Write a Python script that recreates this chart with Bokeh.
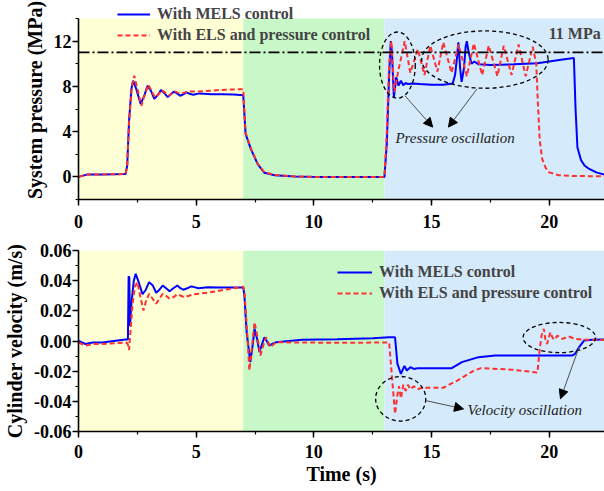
from bokeh.plotting import figure
from bokeh.layouts import column
from bokeh.models import (Range1d, BoxAnnotation, SingleIntervalTicker, PrintfTickFormatter,
                          Legend, LegendItem, Arrow, NormalHead, Label, Span)
from bokeh.embed import file_html
from bokeh.resources import INLINE

# ---------------- data ----------------
phase_edges = [0, 7, 13, 22.35]
phase_colors = ["#FFFFD6", "#C8F8C8", "#D5EAFA"]

labels = ["With MELS control", "With ELS and pressure control"]

# System pressure, MELS (blue)
t_p_mels = [0, 0.35, 1.0, 2.0, 2.07, 2.15, 2.25, 2.32, 2.45, 2.64,
            2.8, 2.93, 3.08, 3.22, 3.36, 3.5, 3.65, 3.79, 3.92, 4.05,
            4.2, 4.32, 4.45, 4.58, 4.72, 4.87, 5.15, 5.65, 6.1, 6.6,
            7.0, 7.05, 7.1, 7.33, 7.62, 7.9, 8.33, 9.2, 10, 12,
            13.0, 13.1, 13.2, 13.27, 13.32, 13.4, 13.5, 13.6, 13.7, 13.8,
            13.9, 14.0, 14.2, 14.5, 15.0, 15.5, 15.9, 16.0, 16.08, 16.14,
            16.22, 16.28, 16.38, 16.45, 16.5, 16.58, 16.7, 16.82, 17.0, 17.5,
            18.5, 19.5, 20.0, 20.5, 21.05, 21.12, 21.2, 21.35, 21.5, 21.7,
            22.0, 22.35]
p_mels = [0, 0.2, 0.22, 0.25, 1.0, 5.0, 7.8, 8.5, 7.8, 6.45,
          7.2, 8.05, 7.6, 6.9, 7.2, 7.68, 7.4, 7.05, 7.3, 7.53,
          7.35, 7.17, 7.3, 7.47, 7.35, 7.26, 7.38, 7.3, 7.3, 7.28,
          7.22, 5.5, 3.8, 2.43, 1.1, 0.36, 0.15, 0.03, 0.0, 0.0,
          0.0, 3.0, 9.0, 12.0, 11.0, 7.0, 8.8, 8.06, 8.5, 8.1,
          8.3, 8.2, 8.25, 8.2, 8.15, 8.15, 8.25, 9.0, 10.5, 11.9,
          9.5, 8.4, 9.6, 11.5, 12.0, 11.0, 10.0, 10.2, 9.95, 9.9,
          9.95, 10.05, 10.2, 10.35, 10.5, 6.0, 2.6, 1.5, 1.0, 0.7,
          0.4, 0.2]

# System pressure, ELS + pressure control (red)
t_p_els = [0, 0.35, 1.0, 2.0, 2.07, 2.15, 2.27, 2.37, 2.5, 2.67,
           2.82, 2.97, 3.1, 3.25, 3.4, 3.54, 3.68, 3.83, 3.95, 4.08,
           4.22, 4.36, 4.5, 4.63, 4.9, 5.2, 5.6, 6.0, 6.5, 7.0,
           7.05, 7.1, 7.33, 7.62, 7.9, 8.33, 9.2, 10, 12, 13.0,
           13.1, 13.2, 13.29, 13.42, 13.6, 13.86, 14.1, 14.42, 14.7, 14.95,
           15.25, 15.5, 15.85, 16.15, 16.5, 16.8, 17.15, 17.43, 17.8, 18.07,
           18.4, 18.7, 19.0, 19.3, 19.45, 19.52, 19.6, 19.7, 19.85, 20.0,
           20.4, 21.0, 22.35]
p_els = [0, 0.2, 0.22, 0.25, 1.0, 5.0, 8.0, 8.95, 7.8, 6.3,
         7.3, 8.15, 7.6, 7.03, 7.3, 7.68, 7.45, 7.17, 7.35, 7.56,
         7.45, 7.35, 7.45, 7.53, 7.55, 7.56, 7.62, 7.68, 7.72, 7.75,
         5.8, 3.9, 2.5, 1.15, 0.4, 0.17, 0.04, 0.0, 0.0, 0.0,
         4.0, 10.0, 12.0, 7.5, 9.5, 12.0, 9.2, 11.3, 9.0, 11.6,
         9.3, 11.9, 9.2, 11.7, 8.9, 11.8, 9.0, 11.6, 8.9, 11.6,
         9.0, 11.7, 8.9, 11.5, 10.0, 6.5, 3.2, 1.6, 0.8, 0.4,
         0.15, 0.08, 0.05]

# Cylinder velocity, MELS (blue)
t_v_mels = [0, 0.3, 0.6, 1.0, 1.5, 2.0, 2.1, 2.13, 2.16, 2.19,
            2.25, 2.35, 2.43, 2.58, 2.72, 2.86, 3.0, 3.15, 3.3, 3.44,
            3.58, 3.72, 3.87, 4.03, 4.2, 4.33, 4.45, 4.62, 4.8, 5.1,
            5.5, 6.0, 6.5, 7.0, 7.05, 7.15, 7.3, 7.39, 7.48, 7.58,
            7.69, 7.8, 7.9, 8.0, 8.1, 8.4, 9.5, 11.0, 12.5, 13.2,
            13.45, 13.55, 13.7, 13.85, 13.95, 14.1, 14.25, 14.4, 15.0, 15.86,
            16.29, 17.0, 17.7, 19.0, 20.98, 21.1, 21.27, 21.48, 21.83, 22.35]
v_mels = [0, -0.002, -0.001, -0.001, 0.0, 0.001, 0.001, 0.043, 0.042, 0.01,
          0.025, 0.04, 0.0446, 0.038, 0.031, 0.034, 0.039, 0.037, 0.032, 0.034,
          0.0368, 0.035, 0.033, 0.035, 0.0368, 0.035, 0.034, 0.035, 0.0362, 0.035,
          0.0357, 0.0355, 0.0355, 0.0355, 0.03, 0.005, -0.014, -0.004, 0.0081, 0.002,
          -0.0074, -0.002, 0.0025, 0.0, -0.003, -0.0008, 0.0008, 0.0012, 0.0018, 0.0025,
          0.0025, -0.015, -0.0218, -0.0165, -0.0196, -0.0174, -0.0185, -0.018, -0.018, -0.018,
          -0.014, -0.0107, -0.0096, -0.0096, -0.0096, -0.0085, -0.0041, 0.0003, 0.0008, 0.001]

# Cylinder velocity, ELS + pressure control (red)
t_v_els = [0, 0.3, 0.6, 1.0, 1.5, 2.0, 2.08, 2.15, 2.2, 2.3,
           2.4, 2.5, 2.62, 2.76, 2.88, 3.0, 3.15, 3.3, 3.44, 3.58,
           3.72, 3.87, 4.03, 4.2, 4.35, 4.5, 4.9, 5.5, 6.2, 7.0,
           7.05, 7.15, 7.26, 7.37, 7.48, 7.6, 7.73, 7.85, 7.97, 8.06,
           8.15, 8.4, 9.5, 11.0, 13.0, 13.2, 13.3, 13.45, 13.55, 13.62,
           13.7, 13.8, 13.9, 14.0, 14.1, 14.25, 14.4, 14.6, 15.4, 15.5,
           16.1, 16.8, 17.1, 18.4, 19.4, 19.5, 19.6, 19.68, 19.77, 19.84,
           19.91, 19.98, 20.05, 20.12, 20.2, 20.28, 20.35, 20.45, 20.55, 20.7,
           20.83, 21.1, 21.5, 22.35]
v_els = [-0.001, -0.003, -0.002, -0.002, -0.0015, -0.001, -0.0015, -0.006, 0.005, 0.025,
         0.036, 0.039, 0.03, 0.0202, 0.027, 0.0313, 0.028, 0.0247, 0.028, 0.0313,
         0.03, 0.028, 0.029, 0.031, 0.030, 0.029, 0.031, 0.032, 0.034, 0.036,
         0.033, 0.01, -0.0196, -0.004, 0.0125, 0.003, -0.0096, -0.003, 0.0025, -0.001,
         -0.0041, -0.0008, -0.001, -0.0012, -0.001, -0.001, -0.02, -0.0483, -0.036, -0.03,
         -0.038, -0.029, -0.033, -0.029, -0.032, -0.03, -0.032, -0.031, -0.031, -0.031,
         -0.0262, -0.0196, -0.018, -0.019, -0.0207, -0.021, -0.005, 0.004, 0.0081, 0.001,
         -0.0019, 0.002, 0.0058, 0.003, 0.0008, 0.002, 0.0036, 0.0025, 0.0014, 0.0022,
         0.003, 0.0014, 0.0008, 0.0008]

limit_pressure = 11
p_lim = (-2, 14)
v_lim = (-0.06, 0.06)

# ---------------- styling helpers ----------------
SERIF = "Liberation Serif"
BLUE = "#0000FF"
RED = "#FF3030"
X_END = phase_edges[-1]


def style(p, ylabel, ylim, xlabel=None):
    p.xgrid.visible = False
    p.ygrid.visible = False
    p.outline_line_color = None
    for ax in (p.xaxis[0], p.yaxis[0]):
        ax.axis_line_width = 1.6
        ax.axis_line_color = "black"
        ax.major_tick_in = 0
        ax.major_tick_out = 6
        ax.minor_tick_in = 0
        ax.minor_tick_out = 3
        ax.major_tick_line_width = 1.5
        ax.minor_tick_line_width = 1.2
        ax.major_label_text_font = SERIF
        ax.major_label_text_font_style = "bold"
        ax.major_label_text_font_size = "18px"
        ax.major_label_text_color = "black"
        ax.axis_label_text_font = SERIF
        ax.axis_label_text_font_style = "bold"
        ax.axis_label_text_font_size = "20px"
        ax.axis_label_text_color = "black"
    p.yaxis[0].major_label_standoff = 1
    p.xaxis[0].major_label_standoff = 9
    p.yaxis[0].axis_label = ylabel
    p.yaxis[0].bounds = ylim
    if xlabel:
        p.xaxis[0].axis_label = xlabel
        p.xaxis[0].axis_label_standoff = 2
    p.xaxis[0].ticker = SingleIntervalTicker(interval=5, num_minor_ticks=2)
    for i in range(len(phase_colors)):
        p.add_layout(BoxAnnotation(left=phase_edges[i], right=phase_edges[i + 1],
                                   bottom=ylim[0], top=ylim[1],
                                   fill_color=phase_colors[i], fill_alpha=1.0,
                                   line_color=None, level="underlay"))


def legend(p, r1, r2, loc, gw):
    lg = Legend(items=[LegendItem(label=labels[0], renderers=[r1]),
                       LegendItem(label=labels[1], renderers=[r2])],
                location=loc, orientation="vertical")
    lg.label_text_font = SERIF
    lg.label_text_font_style = "bold"
    lg.label_text_font_size = "16px"
    lg.glyph_width = gw
    lg.glyph_height = 20
    lg.label_height = 20
    lg.label_standoff = 7
    lg.padding = 0
    lg.margin = 0
    lg.spacing = 1
    lg.border_line_alpha = 0
    lg.background_fill_alpha = 0
    p.add_layout(lg)


def arrow(p, x0, y0, x1, y1):
    p.add_layout(Arrow(end=NormalHead(size=9, fill_color="black", line_color="black"),
                       x_start=x0, y_start=y0, x_end=x1, y_end=y1,
                       line_color="#505050", line_width=1))


# ---------------- top: pressure ----------------
# frame reaches the top of the canvas so that the legend above the data area is not clipped;
# the data area (and axis) still spans -2..14 MPa
TOP_PAD_PX = 18
FRAME_PX = 181
p_top = p_lim[1] + TOP_PAD_PX * (p_lim[1] - p_lim[0]) / FRAME_PX

p1 = figure(width=604, height=240, output_backend="svg", toolbar_location=None,
            x_range=Range1d(0, X_END), y_range=Range1d(p_lim[0], p_top),
            min_border_left=78, min_border_right=0, min_border_top=0, min_border_bottom=41)
style(p1, "System pressure (MPa)", p_lim)
p1.yaxis[0].ticker = SingleIntervalTicker(interval=4, num_minor_ticks=2)

rb1 = p1.line(t_p_mels, p_mels, line_color=BLUE, line_width=2)
rr1 = p1.line(t_p_els, p_els, line_color=RED, line_width=2, line_dash="5 3")
p1.add_layout(Span(location=limit_pressure, dimension="width", line_color="black",
                   line_width=1.8, line_dash="11 3 2 3"))
p1.add_layout(Label(x=19.98, y=12.66, text="11 MPa", text_font=SERIF, text_font_style="bold",
                    text_font_size="16px", text_baseline="middle", text_align="left"))

p1.ellipse(x=[13.55, 17.27], y=[9.88, 10.37], width=[1.52, 5.37], height=[5.85, 5.07],
           fill_alpha=0, line_color="black", line_width=1.3, line_dash="4 3")
arrow(p1, 13.87, 7.17, 15.05, 4.4)
arrow(p1, 16.93, 7.77, 15.72, 4.4)
p1.add_layout(Label(x=16.0, y=3.47, text="Pressure oscillation", text_font=SERIF,
                    text_font_style="italic", text_font_size="15px", text_color="#222222",
                    text_align="center", text_baseline="middle"))
legend(p1, rb1, rr1, (39, 154), 33)

# ---------------- bottom: velocity ----------------
p2 = figure(width=604, height=251, output_backend="svg", toolbar_location=None,
            x_range=Range1d(0, X_END), y_range=Range1d(*v_lim),
            min_border_left=78, min_border_right=0, min_border_top=10, min_border_bottom=60)
style(p2, "Cylinder velocity (m/s)", v_lim, "Time (s)")
p2.yaxis[0].ticker = SingleIntervalTicker(interval=0.02, num_minor_ticks=2)
p2.yaxis[0].formatter = PrintfTickFormatter(format="%.2f")
p2.xaxis[0].major_label_standoff = 7

rb2 = p2.line(t_v_mels, v_mels, line_color=BLUE, line_width=2)
rr2 = p2.line(t_v_els, v_els, line_color=RED, line_width=2, line_dash="5 3")

p2.ellipse(x=[13.69, 20.43], y=[-0.0383, 0.0023], width=[2.13, 3.08], height=[0.0296, 0.020],
           fill_alpha=0, line_color="black", line_width=1.3, line_dash="4 3")
arrow(p2, 14.75, -0.0395, 16.36, -0.045)
arrow(p2, 21.27, -0.0041, 20.48, -0.0383)
p2.add_layout(Label(x=18.96, y=-0.0456, text="Velocity oscillation", text_font=SERIF,
                    text_font_style="italic", text_font_size="15px", text_color="#222222",
                    text_align="center", text_baseline="middle"))
legend(p2, rb2, rr2, (259, 128), 35)

layout = column(p1, p2, spacing=0)
open("out.html", "w").write(file_html(layout, INLINE))
